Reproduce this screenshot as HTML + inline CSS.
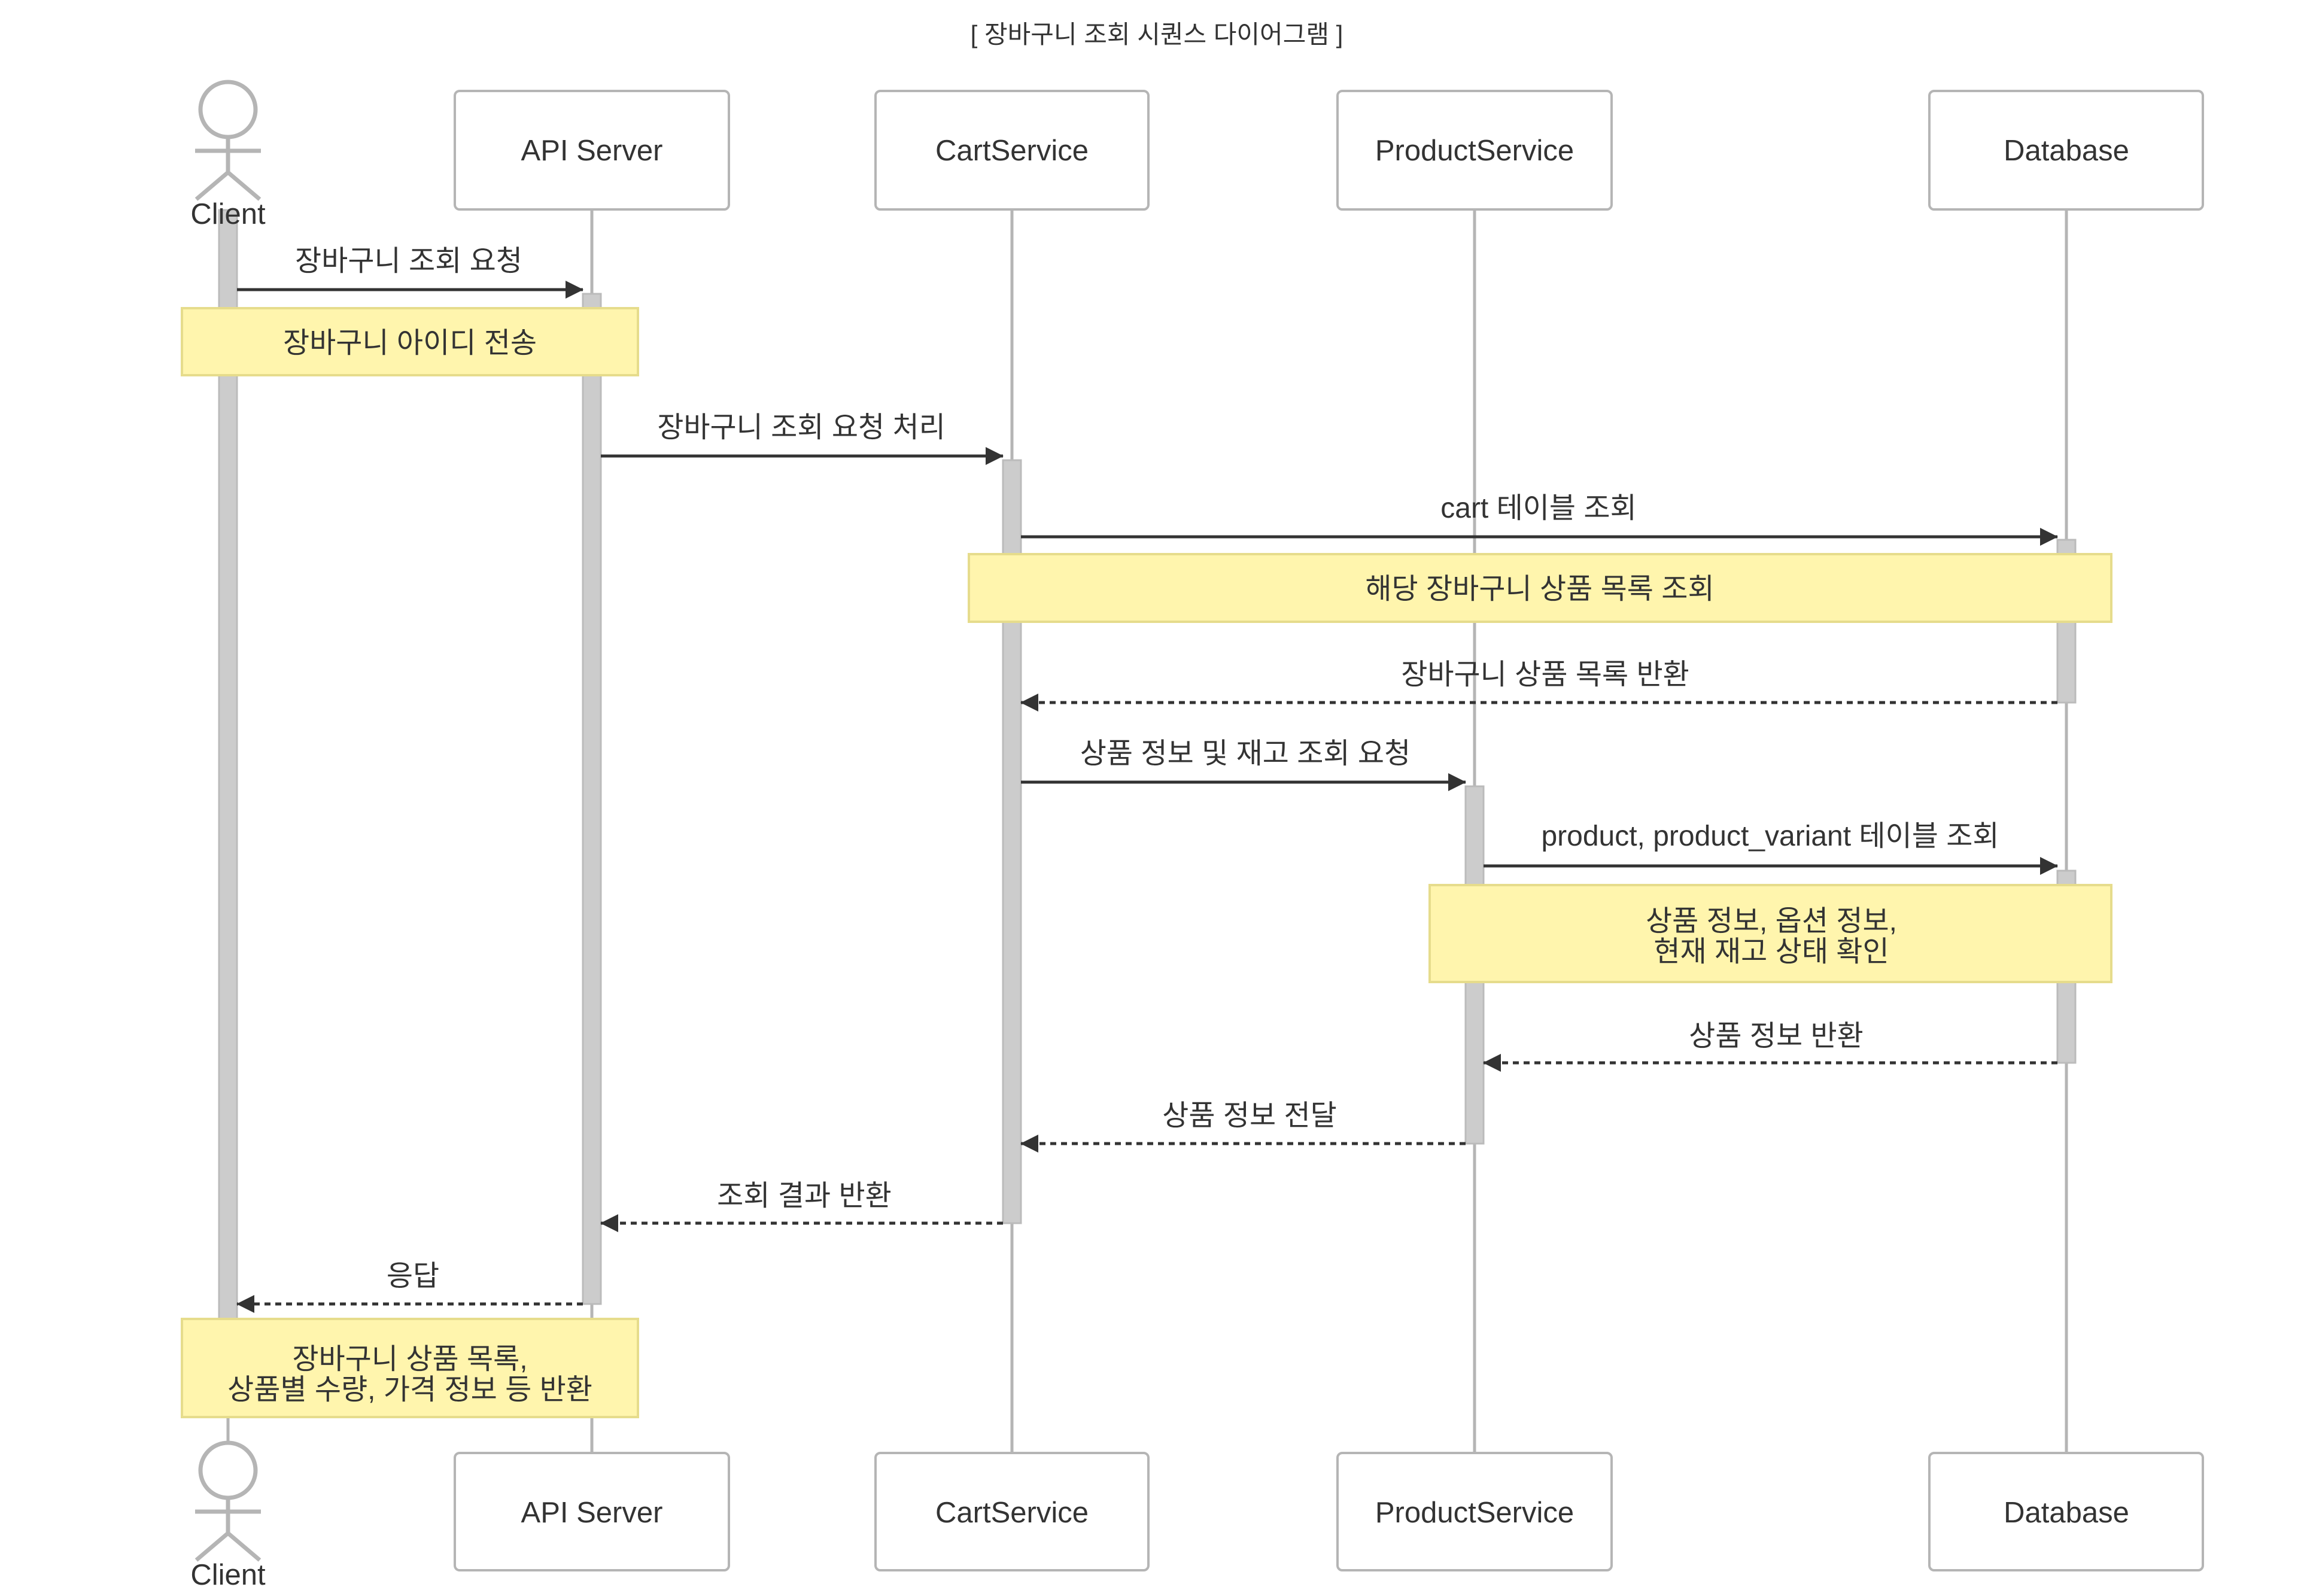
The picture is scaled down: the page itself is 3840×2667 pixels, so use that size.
<!DOCTYPE html>
<html><head><meta charset="utf-8"><style>
html,body{margin:0;padding:0;background:#fff;}
svg{display:block;}
text{font-family:"Liberation Sans","Noto Sans CJK KR",sans-serif;fill:#333;}
</style></head><body>
<svg width="3840" height="2667" viewBox="0 0 3840 2667" xmlns="http://www.w3.org/2000/svg">
<defs>
<marker id="ah" markerWidth="30" markerHeight="30" refX="29" refY="15" orient="auto" markerUnits="userSpaceOnUse" viewBox="0 0 30 30"><path d="M0,0 L30,15 L0,30 z" fill="#333"/></marker>
</defs>
<rect width="3840" height="2667" fill="#fff"/>
<text x="1933" y="72" font-size="42" text-anchor="middle">[ 장바구니 조회 시퀀스 다이어그램 ]</text>

<!-- lifelines -->
<g stroke="#b5b5b5" stroke-width="5">
<line x1="381" y1="350" x2="381" y2="2430"/>
<line x1="989" y1="350" x2="989" y2="2430"/>
<line x1="1691" y1="350" x2="1691" y2="2430"/>
<line x1="2464" y1="350" x2="2464" y2="2430"/>
<line x1="3453" y1="350" x2="3453" y2="2430"/>
</g>

<!-- boxes -->
<g fill="#fff" stroke="#b5b5b5" stroke-width="4">
<rect x="760" y="152" width="458" height="198" rx="8"/>
<rect x="1463" y="152" width="456" height="198" rx="8"/>
<rect x="2235" y="152" width="458" height="198" rx="8"/>
<rect x="3224" y="152" width="457" height="198" rx="8"/>
<rect x="760" y="2428" width="458" height="196" rx="8"/>
<rect x="1463" y="2428" width="456" height="196" rx="8"/>
<rect x="2235" y="2428" width="458" height="196" rx="8"/>
<rect x="3224" y="2428" width="457" height="196" rx="8"/>
</g>
<g font-size="49" text-anchor="middle">
<text x="989" y="268">API Server</text>
<text x="1691" y="268">CartService</text>
<text x="2464" y="268">ProductService</text>
<text x="3453" y="268">Database</text>
<text x="989" y="2544">API Server</text>
<text x="1691" y="2544">CartService</text>
<text x="2464" y="2544">ProductService</text>
<text x="3453" y="2544">Database</text>
</g>

<!-- actors -->
<g fill="#fff" stroke="#b5b5b5" stroke-width="7">
<ellipse cx="381" cy="183" rx="46" ry="46"/>
<line x1="381" y1="229" x2="381" y2="290"/>
<line x1="326" y1="252" x2="436" y2="252"/>
<line x1="381" y1="288" x2="328" y2="333"/>
<line x1="381" y1="288" x2="434" y2="333"/>
<ellipse cx="381" cy="2457" rx="46" ry="46"/>
<line x1="381" y1="2503" x2="381" y2="2564"/>
<line x1="326" y1="2526" x2="436" y2="2526"/>
<line x1="381" y1="2562" x2="328" y2="2607"/>
<line x1="381" y1="2562" x2="434" y2="2607"/>
</g>

<!-- activations -->
<g fill="#cccccc" stroke="#bbbbbb" stroke-width="3">
<rect x="366" y="351" width="30" height="1860"/>
<rect x="974" y="491" width="30" height="1688"/>
<rect x="1676" y="769" width="30" height="1275"/>
<rect x="2449" y="1314" width="30" height="597"/>
<rect x="3438" y="902" width="30" height="272"/>
<rect x="3438" y="1455" width="30" height="321"/>
</g>
<text x="381" y="374" font-size="49" text-anchor="middle">Client</text>
<text x="381" y="2648" font-size="49" text-anchor="middle">Client</text>

<!-- messages -->
<g stroke="#333" stroke-width="5" fill="none" marker-end="url(#ah)">
<line x1="396" y1="484" x2="974" y2="484"/>
<line x1="1004" y1="762" x2="1676" y2="762"/>
<line x1="1706" y1="897" x2="3438" y2="897"/>
<line x1="2479" y1="1447" x2="3438" y2="1447"/>
<line x1="1706" y1="1307" x2="2449" y2="1307"/>
</g>
<g stroke="#333" stroke-width="5" fill="none" stroke-dasharray="10,8" marker-end="url(#ah)">
<line x1="3438" y1="1174" x2="1706" y2="1174"/>
<line x1="3438" y1="1776" x2="2479" y2="1776"/>
<line x1="2449" y1="1911" x2="1706" y2="1911"/>
<line x1="1676" y1="2044" x2="1004" y2="2044"/>
<line x1="974" y1="2179" x2="396" y2="2179"/>
</g>
<g font-size="48" text-anchor="middle">
<text x="683" y="452">장바구니 조회 요청</text>
<text x="1339" y="730">장바구니 조회 요청 처리</text>
<text x="2571" y="865">cart 테이블 조회</text>
<text x="2582" y="1143">장바구니 상품 목록 반환</text>
<text x="2081" y="1275">상품 정보 및 재고 조회 요청</text>
<text x="2958" y="1413">product, product_variant 테이블 조회</text>
<text x="2968" y="1747">상품 정보 반환</text>
<text x="2088" y="1880">상품 정보 전달</text>
<text x="1344" y="2014">조회 결과 반환</text>
<text x="690" y="2148">응답</text>
</g>

<!-- notes -->
<g fill="#fff5ad" stroke="#e6dc8c" stroke-width="4">
<rect x="304" y="515" width="762" height="112"/>
<rect x="1619" y="926" width="1909" height="113"/>
<rect x="2389" y="1479" width="1139" height="162"/>
<rect x="304" y="2204" width="762" height="164"/>
</g>
<g font-size="48" text-anchor="middle">
<text x="685" y="589">장바구니 아이디 전송</text>
<text x="2573" y="1000">해당 장바구니 상품 목록 조회</text>
<text x="2960" y="1555">상품 정보, 옵션 정보,</text>
<text x="2960" y="1606">현재 재고 상태 확인</text>
<text x="685" y="2287">장바구니 상품 목록,</text>
<text x="685" y="2338">상품별 수량, 가격 정보 등 반환</text>
</g>
</svg>
</body></html>
